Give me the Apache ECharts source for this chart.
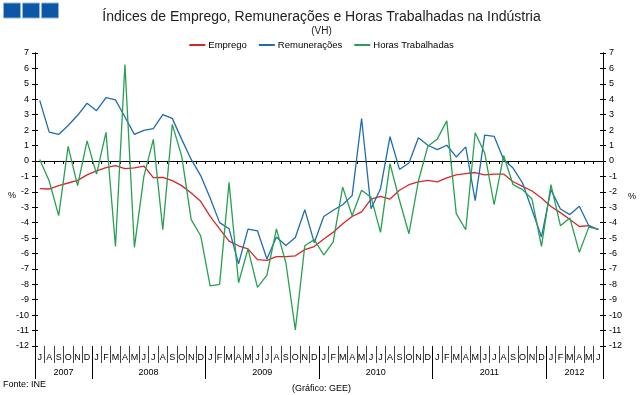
<!DOCTYPE html>
<html>
<head>
<meta charset="utf-8">
<script src="https://cdn.jsdelivr.net/npm/echarts@6/dist/echarts.min.js"></script>
<style>
html,body{margin:0;padding:0;background:#fff;}
#chart{width:643px;height:395px;}
</style>
</head>
<body>
<div id="chart"></div>
<script>
// Monthly categories: Jul 2007 .. Jun 2012
var monthLetters = ['J','A','S','O','N','D',
  'J','F','M','A','M','J','J','A','S','O','N','D',
  'J','F','M','A','M','J','J','A','S','O','N','D',
  'J','F','M','A','M','J','J','A','S','O','N','D',
  'J','F','M','A','M','J','J','A','S','O','N','D',
  'J','F','M','A','M','J'];
var yearLabels = ['2007','2008','2009','2010','2011','2012'];
var yearCenters = [3, 12, 24, 36, 48, 57];      // month-boundary positions of year label centres
var yearBoundaries = [0, 6, 18, 30, 42, 54, 60]; // month-boundary positions of year separators

var emprego = [-1.8,-1.82,-1.6,-1.43,-1.26,-0.9,-0.65,-0.43,-0.3,-0.5,-0.45,-0.33,
  -1.08,-1.06,-1.28,-1.6,-2.08,-2.62,-3.6,-4.4,-5.2,-5.5,-5.7,-6.4,
  -6.45,-6.2,-6.2,-6.15,-5.75,-5.55,-5.06,-4.63,-4.07,-3.6,-3.3,-2.47,
  -2.3,-2.47,-1.9,-1.54,-1.36,-1.26,-1.36,-1.1,-0.9,-0.82,-0.75,-0.9,
  -0.85,-0.85,-1.35,-1.65,-1.95,-2.4,-2.95,-3.35,-3.8,-4.25,-4.2,-4.45];
var remuneracoes = [3.93,1.87,1.72,2.3,2.96,3.74,3.26,4.1,3.96,2.85,1.72,1.98,
  2.1,3.0,2.76,1.4,0.1,-0.95,-2.4,-4.0,-4.4,-6.67,-4.42,-4.53,
  -6.36,-4.93,-5.48,-4.96,-3.16,-5.3,-3.6,-3.2,-2.84,-2.25,2.75,-3.1,
  -1.8,1.57,-0.55,-0.13,1.5,1.02,0.74,1.02,0.26,0.91,-2.57,1.67,
  1.6,0.09,-0.46,-1.43,-3.16,-4.93,-1.86,-3.12,-3.48,-2.94,-4.2,-4.46];
var horas = [0.1,-1.3,-3.55,0.95,-1.6,1.3,-0.85,1.85,-5.55,6.25,-5.6,-1.0,
  1.4,-4.45,2.37,0.3,-3.8,-4.85,-8.1,-8.0,-1.39,-7.9,-5.7,-8.2,
  -7.4,-4.4,-6.6,-10.95,-5.5,-5.1,-6.1,-5.25,-1.7,-3.55,-1.9,-2.35,
  -4.63,-0.17,-2.55,-4.72,-1.3,0.96,1.43,2.6,-3.42,-4.46,1.83,0.52,
  -2.84,0.35,-1.54,-1.86,-2.47,-5.54,-1.54,-4.2,-3.7,-5.93,-4.29,-4.42];

var yearAxisData = [];
for (var k = 0; k <= monthLetters.length; k++) {
  var idx = yearCenters.indexOf(k);
  yearAxisData.push(idx >= 0 ? yearLabels[idx] : '');
}

var FONT = 'Liberation Sans, Arial, sans-serif';
var chart = echarts.init(document.getElementById('chart'), null, {renderer: 'canvas'});

function yAx(pos, inside, showLabel) {
  return {
    type: 'value', position: pos, min: -12, max: 7, interval: 1,
    axisLine: {show: true, lineStyle: {color: '#000', width: 1}},
    axisTick: {show: true, inside: inside, length: 3, lineStyle: {color: '#000'}},
    axisLabel: {show: showLabel, fontSize: 9, fontFamily: FONT, color: '#000', margin: 6},
    splitLine: {show: false}
  };
}

chart.setOption({
  animation: false,
  backgroundColor: '#fff',
  textStyle: {fontFamily: FONT},
  grid: {left: 35, right: 40, top: 53, bottom: 49, containLabel: false},
  title: [{
    text: 'Índices de Emprego, Remunerações e Horas Trabalhadas na Indústria',
    left: 'center', top: 5,
    textStyle: {fontSize: 14, fontWeight: 'normal', fontFamily: FONT, color: '#222'}
  }, {
    text: '(VH)', left: 'center', top: 21,
    textStyle: {fontSize: 10, fontWeight: 'normal', fontFamily: FONT, color: '#222'}
  }],
  legend: {
    top: 35, left: 'center', itemWidth: 16, itemHeight: 2, itemGap: 12,
    icon: 'rect',
    textStyle: {fontSize: 9.5, fontFamily: FONT, color: '#000', padding: [0,0,0,-2]},
    data: ['Emprego', 'Remunerações', 'Horas Trabalhadas']
  },
  xAxis: [{
    type: 'category', data: monthLetters, boundaryGap: true,
    axisLine: {onZero: true, lineStyle: {color: '#000', width: 1}},
    axisTick: {show: true, interval: 0, length: 3, lineStyle: {color: '#000'}},
    axisLabel: {show: false}
  }, {
    type: 'category', data: monthLetters, boundaryGap: true, position: 'bottom',
    axisLine: {show: false, onZero: false},
    axisTick: {show: true, interval: 0, length: 17, lineStyle: {color: '#444'}},
    axisLabel: {show: true, interval: 0, fontSize: 9, fontFamily: FONT, color: '#000', margin: 7}
  }, {
    type: 'category', data: yearAxisData, boundaryGap: false, position: 'bottom',
    axisLine: {show: false, onZero: false},
    axisTick: {show: true, length: 33, lineStyle: {color: '#000'},
      interval: function (i) { return yearBoundaries.indexOf(i) >= 0; }},
    axisLabel: {show: true, interval: 0, fontSize: 9, fontFamily: FONT, color: '#000', margin: 22}
  }],
  yAxis: [yAx('left', false, true), yAx('right', false, true), yAx('left', true, false), yAx('right', true, false)],
  graphic: [
    {type: 'rect', shape: {x: 3.5, y: 3, width: 17, height: 15}, style: {fill: '#0b58a6', stroke: '#8fb3d9', lineWidth: 1}},
    {type: 'rect', shape: {x: 22.5, y: 3, width: 17, height: 15}, style: {fill: '#0b58a6', stroke: '#8fb3d9', lineWidth: 1}},
    {type: 'rect', shape: {x: 41.5, y: 3, width: 17, height: 15}, style: {fill: '#0b58a6', stroke: '#8fb3d9', lineWidth: 1}},
    {type: 'text', left: 8, top: 191, style: {text: '%', fontSize: 9, fontFamily: FONT, fill: '#000'}},
    {type: 'text', left: 628, top: 192, style: {text: '%', fontSize: 9, fontFamily: FONT, fill: '#000'}},
    {type: 'text', left: 3, top: 380, style: {text: 'Fonte: INE', fontSize: 9, fontFamily: FONT, fill: '#000'}},
    {type: 'text', left: 'center', top: 384, style: {text: '(Gráfico: GEE)', fontSize: 9, fontFamily: FONT, fill: '#000'}}
  ],
  series: [{
    name: 'Emprego', type: 'line', data: emprego, symbol: 'none',
    itemStyle: {color: '#d9262b'}, lineStyle: {color: '#d9262b', width: 1.3}
  }, {
    name: 'Remunerações', type: 'line', data: remuneracoes, symbol: 'none',
    itemStyle: {color: '#1f6cb0'}, lineStyle: {color: '#1f6cb0', width: 1.3}
  }, {
    name: 'Horas Trabalhadas', type: 'line', data: horas, symbol: 'none',
    itemStyle: {color: '#28a050'}, lineStyle: {color: '#28a050', width: 1.3}
  }]
});
</script>
</body>
</html>
